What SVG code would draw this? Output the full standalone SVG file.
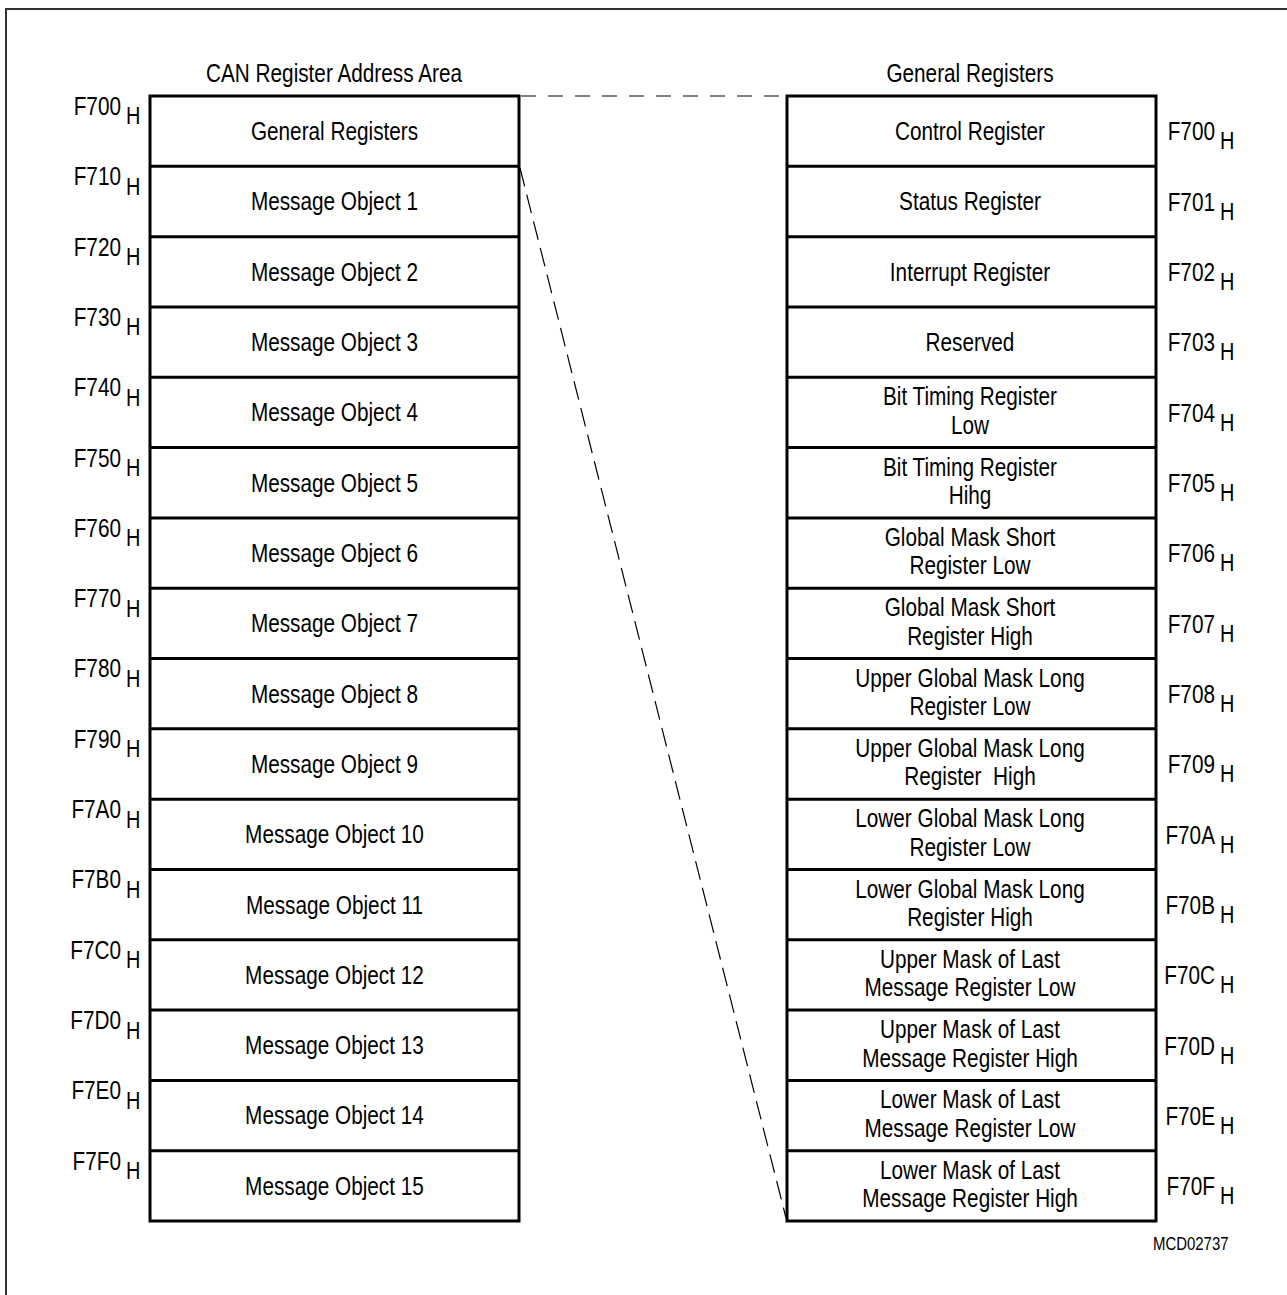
<svg xmlns="http://www.w3.org/2000/svg" width="1287" height="1295" viewBox="0 0 1287 1295">
<style>
text{font-family:"Liberation Sans",Arial,sans-serif;fill:#000}
.t{font-size:25px;text-anchor:middle}
.a{font-size:25px;text-anchor:end}
.h{font-size:24px}
.box{fill:#fff;stroke:#000;stroke-width:3}
.div{stroke:#000;stroke-width:3}
</style>
<rect x="0" y="0" width="1287" height="1295" fill="#fff"/>
<path d="M6,1300 V9 H1295" fill="none" stroke="#333" stroke-width="2"/>
<g transform="scale(0.83 1)">
<text class="t" x="402.41" y="82">CAN Register Address Area</text>
<text class="t" x="1168.67" y="82">General Registers</text>
</g>
<g id="connectors">
<line x1="521" y1="96" x2="786" y2="96" stroke="#808080" stroke-width="2" stroke-dasharray="15 12"/>
<line x1="520" y1="168" x2="786" y2="1218" stroke="#000" stroke-width="1.2" stroke-dasharray="19 8.5"/>
</g>
<g id="left-area">
<rect class="box" x="150" y="96" width="369" height="1125"/>
<path class="div" d="M150,166.31H519M150,236.63H519M150,306.94H519M150,377.25H519M150,447.56H519M150,517.88H519M150,588.19H519M150,658.5H519M150,728.81H519M150,799.13H519M150,869.44H519M150,939.75H519M150,1010.06H519M150,1080.38H519M150,1150.69H519"/>
</g>
<g transform="scale(0.83 1)">
<g id="l0"><text class="t" x="403.01" y="140.2">General Registers</text><text class="a" x="145.78" y="115">F700</text><text class="h" x="151.81" y="124.5">H</text></g>
<g id="l1"><text class="t" x="403.01" y="210.5">Message Object 1</text><text class="a" x="145.78" y="185.3">F710</text><text class="h" x="151.81" y="194.8">H</text></g>
<g id="l2"><text class="t" x="403.01" y="280.8">Message Object 2</text><text class="a" x="145.78" y="255.6">F720</text><text class="h" x="151.81" y="265.1">H</text></g>
<g id="l3"><text class="t" x="403.01" y="351.1">Message Object 3</text><text class="a" x="145.78" y="325.9">F730</text><text class="h" x="151.81" y="335.4">H</text></g>
<g id="l4"><text class="t" x="403.01" y="421.4">Message Object 4</text><text class="a" x="145.78" y="396.3">F740</text><text class="h" x="151.81" y="405.8">H</text></g>
<g id="l5"><text class="t" x="403.01" y="491.7">Message Object 5</text><text class="a" x="145.78" y="466.6">F750</text><text class="h" x="151.81" y="476.1">H</text></g>
<g id="l6"><text class="t" x="403.01" y="562">Message Object 6</text><text class="a" x="145.78" y="536.9">F760</text><text class="h" x="151.81" y="546.4">H</text></g>
<g id="l7"><text class="t" x="403.01" y="632.4">Message Object 7</text><text class="a" x="145.78" y="607.2">F770</text><text class="h" x="151.81" y="616.7">H</text></g>
<g id="l8"><text class="t" x="403.01" y="702.7">Message Object 8</text><text class="a" x="145.78" y="677.5">F780</text><text class="h" x="151.81" y="687">H</text></g>
<g id="l9"><text class="t" x="403.01" y="773">Message Object 9</text><text class="a" x="145.78" y="747.8">F790</text><text class="h" x="151.81" y="757.3">H</text></g>
<g id="l10"><text class="t" x="403.01" y="843.3">Message Object 10</text><text class="a" x="145.78" y="818.1">F7A0</text><text class="h" x="151.81" y="827.6">H</text></g>
<g id="l11"><text class="t" x="403.01" y="913.6">Message Object 11</text><text class="a" x="145.78" y="888.4">F7B0</text><text class="h" x="151.81" y="897.9">H</text></g>
<g id="l12"><text class="t" x="403.01" y="983.9">Message Object 12</text><text class="a" x="145.78" y="958.8">F7C0</text><text class="h" x="151.81" y="968.3">H</text></g>
<g id="l13"><text class="t" x="403.01" y="1054.2">Message Object 13</text><text class="a" x="145.78" y="1029.1">F7D0</text><text class="h" x="151.81" y="1038.6">H</text></g>
<g id="l14"><text class="t" x="403.01" y="1124.5">Message Object 14</text><text class="a" x="145.78" y="1099.4">F7E0</text><text class="h" x="151.81" y="1108.9">H</text></g>
<g id="l15"><text class="t" x="403.01" y="1194.9">Message Object 15</text><text class="a" x="145.78" y="1169.7">F7F0</text><text class="h" x="151.81" y="1179.2">H</text></g>
</g>
<g id="right-area">
<rect class="box" x="787" y="96" width="369" height="1125"/>
<path class="div" d="M787,166.31H1156M787,236.63H1156M787,306.94H1156M787,377.25H1156M787,447.56H1156M787,517.88H1156M787,588.19H1156M787,658.5H1156M787,728.81H1156M787,799.13H1156M787,869.44H1156M787,939.75H1156M787,1010.06H1156M787,1080.38H1156M787,1150.69H1156"/>
</g>
<g transform="scale(0.83 1)">
<g id="r0"><text class="t" x="1168.67" y="140.2">Control Register</text><text class="a" x="1463.86" y="140.5">F700</text><text class="h" x="1469.88" y="149.5">H</text></g>
<g id="r1"><text class="t" x="1168.67" y="210.5">Status Register</text><text class="a" x="1463.86" y="210.8">F701</text><text class="h" x="1469.88" y="219.8">H</text></g>
<g id="r2"><text class="t" x="1168.67" y="280.8">Interrupt Register</text><text class="a" x="1463.86" y="281.1">F702</text><text class="h" x="1469.88" y="290.1">H</text></g>
<g id="r3"><text class="t" x="1168.67" y="351.1">Reserved</text><text class="a" x="1463.86" y="351.4">F703</text><text class="h" x="1469.88" y="360.4">H</text></g>
<g id="r4"><text class="t" x="1168.67" y="405.4">Bit Timing Register</text><text class="t" x="1168.67" y="433.9">Low</text><text class="a" x="1463.86" y="421.8">F704</text><text class="h" x="1469.88" y="430.8">H</text></g>
<g id="r5"><text class="t" x="1168.67" y="475.7">Bit Timing Register</text><text class="t" x="1168.67" y="504.2">Hihg</text><text class="a" x="1463.86" y="492.1">F705</text><text class="h" x="1469.88" y="501.1">H</text></g>
<g id="r6"><text class="t" x="1168.67" y="546">Global Mask Short</text><text class="t" x="1168.67" y="574.5">Register Low</text><text class="a" x="1463.86" y="562.4">F706</text><text class="h" x="1469.88" y="571.4">H</text></g>
<g id="r7"><text class="t" x="1168.67" y="616.4">Global Mask Short</text><text class="t" x="1168.67" y="644.9">Register High</text><text class="a" x="1463.86" y="632.7">F707</text><text class="h" x="1469.88" y="641.7">H</text></g>
<g id="r8"><text class="t" x="1168.67" y="686.7">Upper Global Mask Long</text><text class="t" x="1168.67" y="715.2">Register Low</text><text class="a" x="1463.86" y="703">F708</text><text class="h" x="1469.88" y="712">H</text></g>
<g id="r9"><text class="t" x="1168.67" y="757">Upper Global Mask Long</text><text class="t" x="1168.67" y="785.5" xml:space="preserve">Register  High</text><text class="a" x="1463.86" y="773.3">F709</text><text class="h" x="1469.88" y="782.3">H</text></g>
<g id="r10"><text class="t" x="1168.67" y="827.3">Lower Global Mask Long</text><text class="t" x="1168.67" y="855.8">Register Low</text><text class="a" x="1463.86" y="843.6">F70A</text><text class="h" x="1469.88" y="852.6">H</text></g>
<g id="r11"><text class="t" x="1168.67" y="897.6">Lower Global Mask Long</text><text class="t" x="1168.67" y="926.1">Register High</text><text class="a" x="1463.86" y="914">F70B</text><text class="h" x="1469.88" y="923">H</text></g>
<g id="r12"><text class="t" x="1168.67" y="967.9">Upper Mask of Last</text><text class="t" x="1168.67" y="996.4">Message Register Low</text><text class="a" x="1463.86" y="984.3">F70C</text><text class="h" x="1469.88" y="993.3">H</text></g>
<g id="r13"><text class="t" x="1168.67" y="1038.2">Upper Mask of Last</text><text class="t" x="1168.67" y="1066.7">Message Register High</text><text class="a" x="1463.86" y="1054.6">F70D</text><text class="h" x="1469.88" y="1063.6">H</text></g>
<g id="r14"><text class="t" x="1168.67" y="1108.5">Lower Mask of Last</text><text class="t" x="1168.67" y="1137">Message Register Low</text><text class="a" x="1463.86" y="1124.9">F70E</text><text class="h" x="1469.88" y="1133.9">H</text></g>
<g id="r15"><text class="t" x="1168.67" y="1178.9">Lower Mask of Last</text><text class="t" x="1168.67" y="1207.4">Message Register High</text><text class="a" x="1463.86" y="1195.2">F70F</text><text class="h" x="1469.88" y="1204.2">H</text></g>
<text x="1389.16" y="1250" font-size="18">MCD02737</text>
</g>
</svg>
